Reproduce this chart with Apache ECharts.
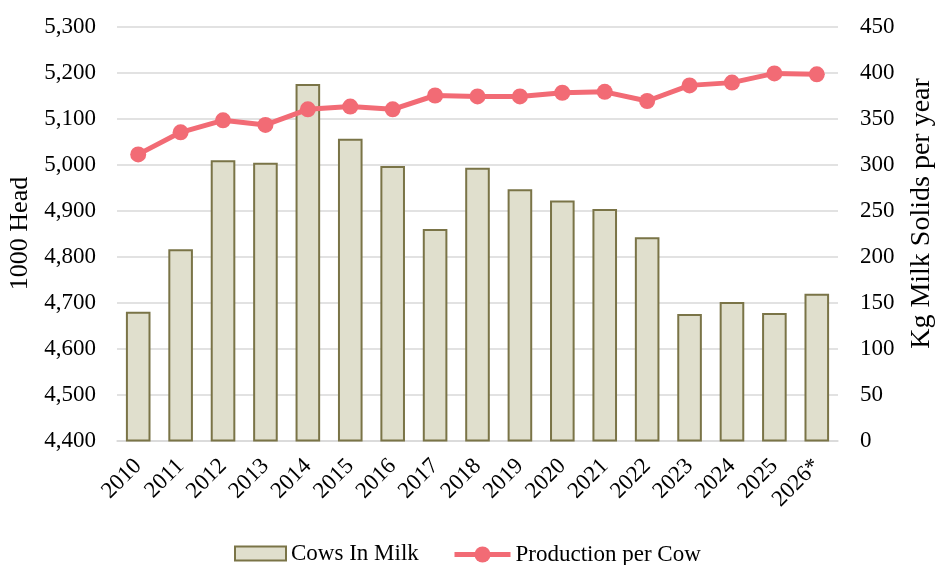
<!DOCTYPE html>
<html>
<head>
<meta charset="utf-8">
<script src="https://cdn.jsdelivr.net/npm/echarts@6/dist/echarts.min.js"></script>
<style>
  html, body { margin: 0; padding: 0; background: #ffffff; }
  #chart { width: 935px; height: 565px; }
</style>
</head>
<body>
<div id="chart"></div>
<script>
// Years shown on the category axis
const years = ['2010', '2011', '2012', '2013', '2014', '2015', '2016', '2017', '2018',
               '2019', '2020', '2021', '2022', '2023', '2024', '2025', '2026*'];

// Cows in milk, thousand head (left axis)
const cowsInMilk = [4680, 4816, 5009, 5004, 5175, 5056, 4997, 4860, 4993,
                    4946, 4922, 4903, 4842, 4675, 4701, 4677, 4719];

// Milk solids per cow, kg per year (right axis)
const productionPerCow = [311, 335, 348, 343, 360, 363, 360, 375, 374,
                          374, 378, 379, 369, 386, 389, 399, 398];

const FONT = 'Liberation Serif';
const TEXT = '#000000';
const GRID_LINE = '#d9d9d9';
const BAR_FILL = '#e0dfcd';
const BAR_EDGE = '#7a7447';
const LINE_RED = '#f26b75';

const chart = echarts.init(document.getElementById('chart'), null, { renderer: 'canvas' });

const legendText = { fontFamily: FONT, fontSize: 23, color: TEXT };

chart.setOption({
  animation: false,
  backgroundColor: '#ffffff',
  textStyle: { fontFamily: FONT, color: TEXT },
  grid: {
    left: 117, right: 97, top: 26.5, bottom: 124.5,
    containLabel: false,
    outerBoundsMode: 'none'
  },
  legend: [
    {
      top: 537,
      left: 229,
      itemWidth: 51,
      itemHeight: 14,
      textStyle: legendText,
      data: [
        { name: 'Cows In Milk', icon: 'rect', itemStyle: { color: BAR_FILL, borderColor: BAR_EDGE, borderWidth: 2 } }
      ]
    },
    {
      top: 538,
      left: 447,
      itemWidth: 56,
      itemHeight: 20,
      textStyle: legendText,
      data: [
        { name: 'Production per Cow', lineStyle: { color: LINE_RED, width: 5 } }
      ]
    }
  ],
  xAxis: {
    type: 'category',
    data: years,
    axisLine: { show: true, lineStyle: { color: GRID_LINE, width: 1.5 } },
    axisTick: { show: false },
    axisLabel: {
      rotate: 45,
      margin: 22,
      interval: 0,
      fontFamily: FONT,
      fontSize: 23,
      color: TEXT
    }
  },
  yAxis: [
    {
      type: 'value',
      min: 4400,
      max: 5300,
      interval: 100,
      name: '1000 Head',
      nameLocation: 'middle',
      nameGap: 82,
      nameTextStyle: { fontFamily: FONT, fontSize: 26, color: TEXT },
      axisLine: { show: false },
      axisTick: { show: false },
      splitLine: { lineStyle: { color: GRID_LINE, width: 1.5 } },
      axisLabel: {
        margin: 21,
        fontFamily: FONT,
        fontSize: 23,
        color: TEXT,
        formatter: v => v.toLocaleString('en-US')
      }
    },
    {
      type: 'value',
      min: 0,
      max: 450,
      interval: 50,
      name: 'Kg Milk Solids per year',
      nameLocation: 'middle',
      nameGap: 70,
      nameTextStyle: { fontFamily: FONT, fontSize: 28, color: TEXT, padding: [0, 0, 0, 40] },
      axisLine: { show: false },
      axisTick: { show: false },
      splitLine: { show: false },
      axisLabel: {
        margin: 22,
        fontFamily: FONT,
        fontSize: 23,
        color: TEXT
      }
    }
  ],
  series: [
    {
      name: 'Cows In Milk',
      type: 'bar',
      yAxisIndex: 0,
      data: cowsInMilk,
      barWidth: '58%',
      itemStyle: { color: BAR_FILL, borderColor: BAR_EDGE, borderWidth: 2 }
    },
    {
      name: 'Production per Cow',
      type: 'line',
      yAxisIndex: 1,
      data: productionPerCow,
      symbol: 'circle',
      symbolSize: 16,
      lineStyle: { color: LINE_RED, width: 5 },
      itemStyle: { color: LINE_RED },
      z: 5
    }
  ]
});
</script>
</body>
</html>
